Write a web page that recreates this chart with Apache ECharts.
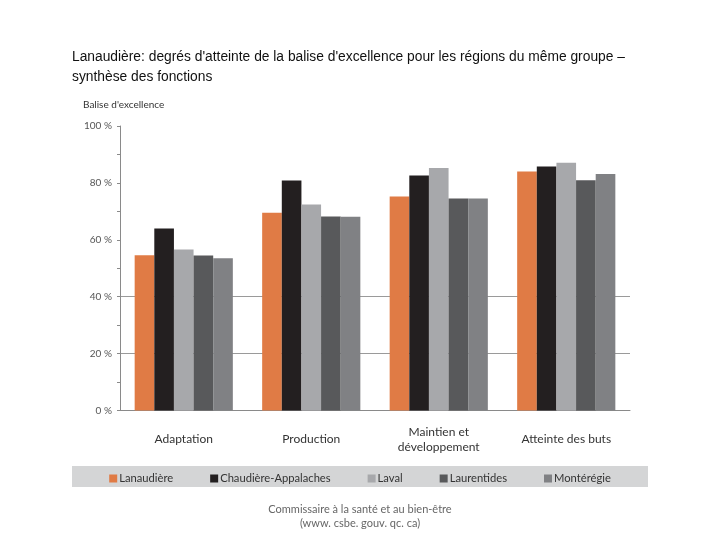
<!DOCTYPE html>
<html>
<head>
<meta charset="utf-8">
<script src="https://cdn.jsdelivr.net/npm/echarts@6/dist/echarts.min.js"></script>
<style>html,body{margin:0;padding:0;background:#fff}#c{width:720px;height:540px}</style>
</head>
<body>
<div id="c"></div>
<script>
const categories = ['Adaptation', 'Production', 'Maintien et\ndéveloppement', 'Atteinte des buts'];
const seriesNames = ['Lanaudière', 'Chaudière-Appalaches', 'Laval', 'Laurentides', 'Montérégie'];
const lanaudiere = [54.6, 69.5, 75.2, 84.0];
const chaudiere = [64.0, 80.8, 82.6, 85.8];
const laval = [56.6, 72.4, 85.2, 87.1];
const laurentides = [54.5, 68.2, 74.5, 80.9];
const monteregie = [53.5, 68.1, 74.5, 83.1];
const yTicks = [0, 20, 40, 60, 80, 100];

const colors = ['#e07b45', '#231f20', '#a7a8ab', '#58595b', '#808184'];
const values = [lanaudiere, chaudiere, laval, laurentides, monteregie];

const chart = echarts.init(document.getElementById('c'), null, {renderer: 'canvas'});
chart.setOption({
  animation: false,
  backgroundColor: '#fff',
  color: colors,
  title: {
    text: "Lanaudière: degrés d'atteinte de la balise d'excellence pour les régions du même groupe –\nsynthèse des fonctions",
    left: 67, top: 42,
    textStyle: {fontFamily: 'Liberation Sans', fontSize: 13.8, fontWeight: 'normal', color: '#111', lineHeight: 20}
  },
  graphic: [
    {type: 'rect', shape: {x: 72, y: 466, width: 576, height: 21}, style: {fill: '#d4d5d6'}, z: -1},
    {type: 'text', x: 83, y: 100, style: {text: "Balise d'excellence", font: '10px Lato', fill: '#333'}},
    {type: 'text', x: 360, y: 502, style: {text: 'Commissaire à la santé et au bien-être\n(www. csbe. gouv. qc. ca)', font: '11px Lato', fill: '#666', align: 'center', lineHeight: 14}}
  ],
  legend: {
    data: seriesNames,
    left: 'center', top: 468,
    itemWidth: 8, itemHeight: 8, itemGap: 37,
    icon: 'rect',
    textStyle: {fontFamily: 'Lato', fontSize: 11.2, color: '#333', padding: [0, 0, 0, -3]}
  },
  grid: {left: 120, right: 90, top: 126, bottom: 129.5},
  xAxis: {
    type: 'category', data: categories,
    axisLine: {lineStyle: {color: '#8a8a8a'}},
    axisTick: {show: false},
    axisLabel: {fontFamily: 'Lato', fontSize: 12, color: '#333', lineHeight: 15, margin: 29, verticalAlign: 'middle'}
  },
  yAxis: {
    type: 'value', min: yTicks[0], max: yTicks[yTicks.length - 1], interval: 20,
    axisLine: {show: true, lineStyle: {color: '#8a8a8a'}},
    axisTick: {show: true, length: 3, lineStyle: {color: '#8a8a8a'}},
    minorTick: {show: true, splitNumber: 2, length: 3, lineStyle: {color: '#8a8a8a'}},
    axisLabel: {formatter: v => v + ' %', fontFamily: 'Lato', fontSize: 10, color: '#555', margin: 8},
    splitLine: {show: true, lineStyle: {color: ['rgba(0,0,0,0)', '#9a9a9a', '#9a9a9a', 'rgba(0,0,0,0)', 'rgba(0,0,0,0)', 'rgba(0,0,0,0)']}}
  },
  series: seriesNames.map((n, i) => ({
    name: n, type: 'bar', data: values[i],
    barGap: '0%', barCategoryGap: '23%'
  }))
});
</script>
</body>
</html>
